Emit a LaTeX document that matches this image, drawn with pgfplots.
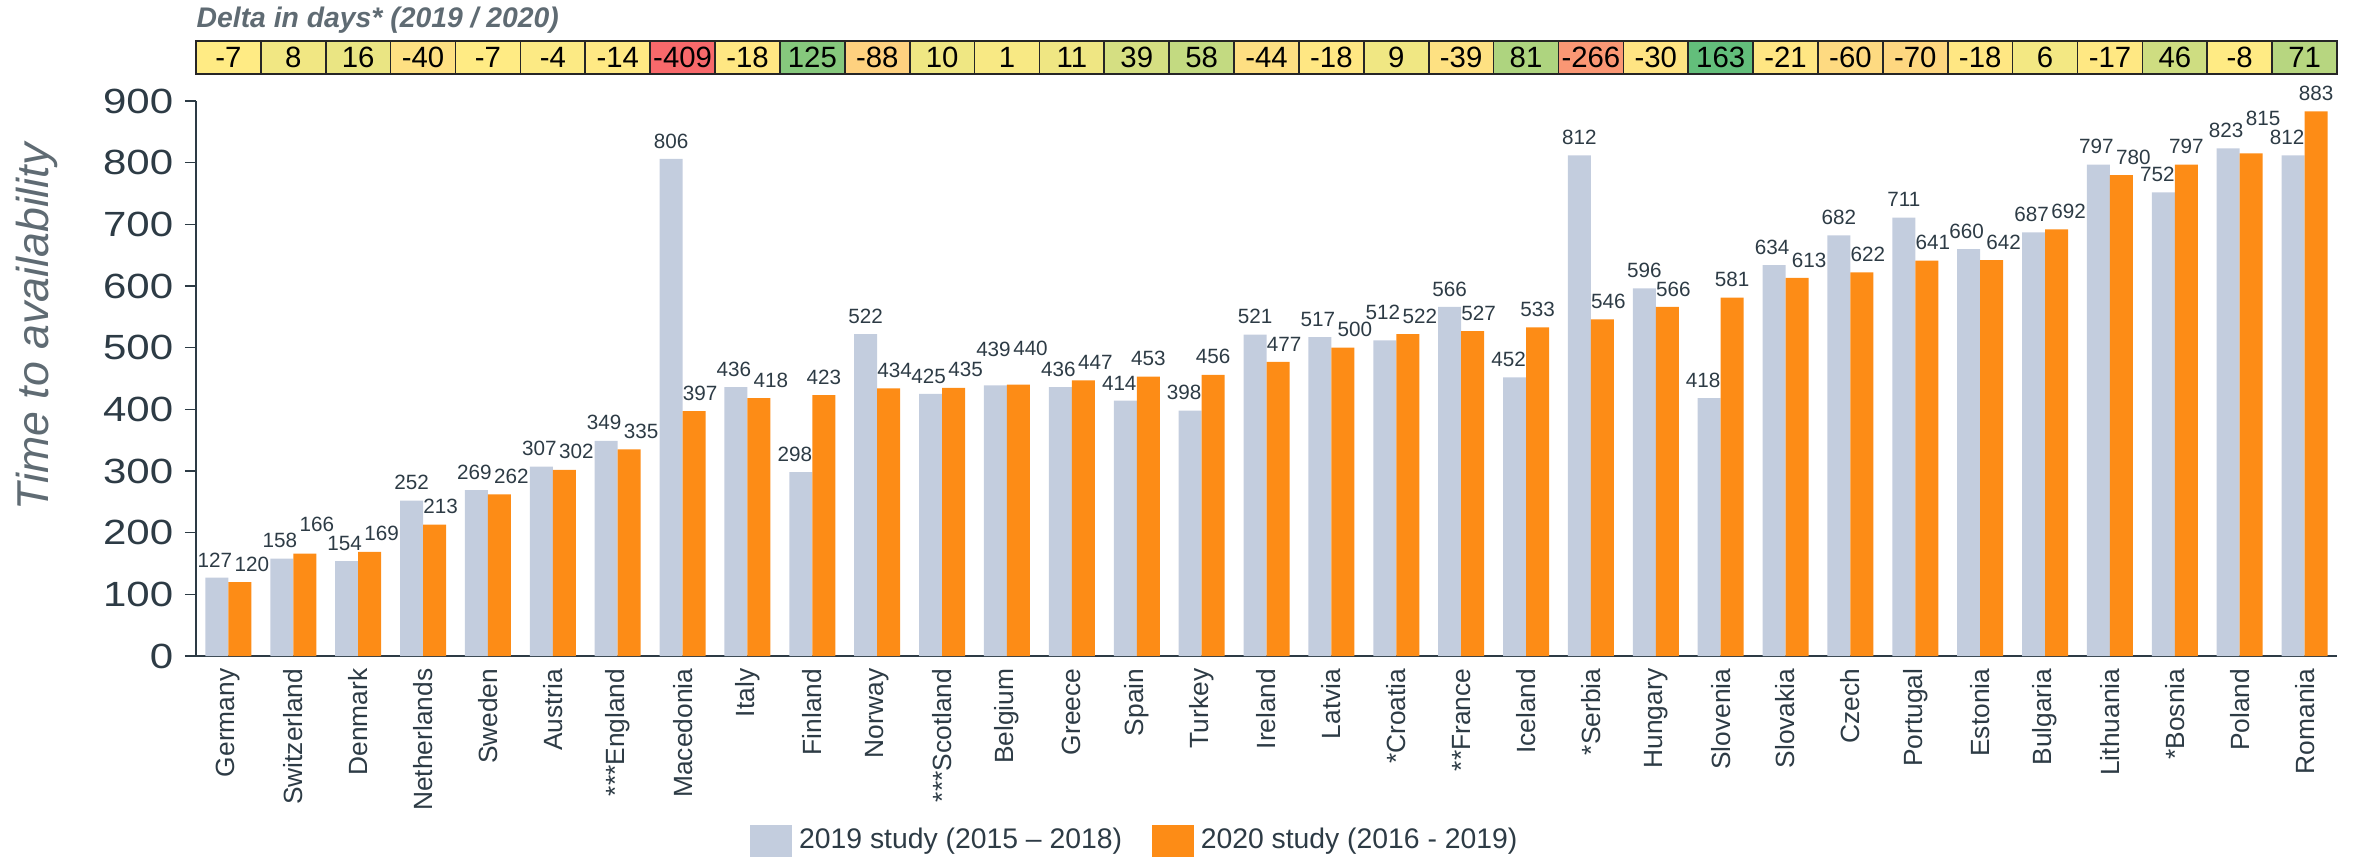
\documentclass[border=0pt]{standalone}
\usepackage{graphicx}
\usepackage{pgfplots}
\pgfplotsset{compat=1.18}
\usepackage{pgfplotstable}
\usepackage{fontspec}
\setmainfont{Liberation Sans}
\definecolor{bargray}{RGB}{195,205,222}
\definecolor{barorange}{RGB}{253,140,22}
\definecolor{txt}{RGB}{45,59,69}
\definecolor{lblgray}{RGB}{95,107,115}
% cell colours: red-yellow-green scale, min -409, midpoint -7, max 163
\definecolor{cell0}{RGB}{255,235,132}
\definecolor{cell1}{RGB}{241,231,131}
\definecolor{cell2}{RGB}{234,229,131}
\definecolor{cell3}{RGB}{254,224,130}
\definecolor{cell4}{RGB}{255,235,132}
\definecolor{cell5}{RGB}{252,234,132}
\definecolor{cell6}{RGB}{255,233,132}
\definecolor{cell7}{RGB}{248,105,107}
\definecolor{cell8}{RGB}{255,231,131}
\definecolor{cell9}{RGB}{134,200,125}
\definecolor{cell10}{RGB}{254,209,127}
\definecolor{cell11}{RGB}{239,231,131}
\definecolor{cell12}{RGB}{248,233,132}
\definecolor{cell13}{RGB}{239,230,131}
\definecolor{cell14}{RGB}{213,223,130}
\definecolor{cell15}{RGB}{195,218,129}
\definecolor{cell16}{RGB}{254,223,130}
\definecolor{cell17}{RGB}{255,231,131}
\definecolor{cell18}{RGB}{240,231,131}
\definecolor{cell19}{RGB}{254,225,130}
\definecolor{cell20}{RGB}{174,212,127}
\definecolor{cell21}{RGB}{250,151,116}
\definecolor{cell22}{RGB}{255,228,131}
\definecolor{cell23}{RGB}{99,190,123}
\definecolor{cell24}{RGB}{255,230,131}
\definecolor{cell25}{RGB}{254,218,129}
\definecolor{cell26}{RGB}{254,215,128}
\definecolor{cell27}{RGB}{255,231,131}
\definecolor{cell28}{RGB}{243,232,131}
\definecolor{cell29}{RGB}{255,232,131}
\definecolor{cell30}{RGB}{206,221,129}
\definecolor{cell31}{RGB}{255,235,132}
\definecolor{cell32}{RGB}{183,214,128}
\pgfdeclareplotmark{cell}{\pgfpathrectangle{\pgfpoint{-9.732pt}{-4.95pt}}{\pgfpoint{19.464pt}{9.9pt}}\pgfusepathqfillstroke}
% x: position, y19/y20: values, d: delta, ty: height of the delta row,
% s19/s20: label x-offsets (pt), r19/r20: extra label lift (pt)
\pgfplotstableread{
x y19 y20 d ty s19 s20 r19 r20
0 127 120 -7 970.5 -0.6 3.6 0 0
1 158 166 8 970.5 -0.6 3.6 0 3.5
2 154 169 16 970.5 -0.6 3.6 0 0
3 252 213 -40 970.5 0 1.8 0 0
4 269 262 -7 970.5 -0.6 3.6 0 0
5 307 302 -4 970.5 -0.6 3.6 0 0
6 349 335 -14 970.5 -0.6 3.6 0 0
7 806 397 -409 970.5 0 1.8 0 0
8 436 418 -18 970.5 -0.6 3.6 0 0
9 298 423 125 970.5 -1.8 0 0 0
10 522 434 -88 970.5 0 1.8 0 0
11 425 435 10 970.5 -0.6 3.6 0 0
12 439 440 1 970.5 -0.6 3.6 5.5 5.5
13 436 447 11 970.5 -0.6 3.6 0 0
14 414 453 39 970.5 -1.8 0 0 0
15 398 456 58 970.5 -1.8 0 0 0
16 521 477 -44 970.5 0 1.8 0 0
17 517 500 -18 970.5 -0.6 3.6 0 0
18 512 522 9 970.5 -0.6 3.6 3 0
19 566 527 -39 970.5 0 1.8 0 0
20 452 533 81 970.5 -1.8 0 0 0
21 812 546 -266 970.5 0 1.8 0 0
22 596 566 -30 970.5 0 1.8 0 0
23 418 581 163 970.5 -1.8 0 0 0
24 634 613 -21 970.5 -0.6 3.6 0 0
25 682 622 -60 970.5 0 1.8 0 0
26 711 641 -70 970.5 0 1.8 0 0
27 660 642 -18 970.5 -0.6 3.6 0 0
28 687 692 6 970.5 -0.6 3.6 0 0
29 797 780 -17 970.5 -0.6 3.6 0 0
30 752 797 46 970.5 -1.8 0 0 0
31 823 815 -8 970.5 -0.6 3.6 0 5
32 812 883 71 970.5 -1.8 0 0 0
}\data
\pgfplotsset{barlabel/.style={forget plot, draw=none, mark=none, point meta=explicit symbolic, nodes near coords,
  every node near coord/.append style={font=\fontsize{6.2}{7}\selectfont, text=txt, inner sep=0pt, anchor=south, yshift=3pt}}}
\begin{document}
\begin{tikzpicture}
\begin{axis}[
  scale only axis,
  width=642.3pt, height=166.5pt,
  xmin=-0.5, xmax=32.5, ymin=0, ymax=900,
  clip=false,
  axis lines*=left,
  x axis line style={line width=0.6pt, txt},
  y axis line style={line width=0.4pt, txt},
  xtick=data,
  xticklabels={Germany,Switzerland,Denmark,Netherlands,Sweden,Austria,***England,Macedonia,Italy,Finland,Norway,***Scotland,Belgium,Greece,Spain,Turkey,Ireland,Latvia,*Croatia,**France,Iceland,*Serbia,Hungary,Slovenia,Slovakia,Czech,Portugal,Estonia,Bulgaria,Lithuania,*Bosnia,Poland,Romania},
  xticklabel style={rotate=90, anchor=east, font=\fontsize{7.9}{9}\selectfont, text=txt},
  xticklabel shift=-3pt,
  x tick style={draw=none},
  ytick={0,100,...,900},
  yticklabel={\scalebox{1.2}[1]{\pgfmathprintnumber{\tick}}},
  yticklabel style={font=\fontsize{10.5}{12}\selectfont, text=txt},
  y tick style={txt, line width=0.4pt},
  tick align=outside,
  major tick length=3.3pt,
  /pgf/number format/assume math mode=true,
  ylabel={Time to availability},
  every axis y label/.style={at={(rel axis cs:0,0.5)}, rotate=90, anchor=center, yshift=47.7pt, xshift=15.5pt, font=\fontsize{13.4}{15}\selectfont\itshape, text=lblgray},
  legend style={at={(0.254,-0.333)}, anchor=west, draw=none, fill=none, legend columns=2, font=\fontsize{8.5}{10}\selectfont, text=txt, /tikz/every even column/.append style={column sep=7pt}},
  legend cell align=left,
]
\addplot[ybar, bar width=6.9pt, bar shift=-3.45pt, fill=bargray, draw=none,
  legend image code/.code={\fill[bargray] (0pt,-4.8pt) rectangle (12.6pt,4.8pt);}]
  table[x=x, y=y19] \data;
\addlegendentry{2019 study (2015 – 2018)}
\addplot[ybar, bar width=6.9pt, bar shift=3.45pt, fill=barorange, draw=none,
  legend image code/.code={\fill[barorange] (0pt,-4.8pt) rectangle (12.6pt,4.8pt);}]
  table[x=x, y=y20] \data;
\addlegendentry{2020 study (2016 - 2019)}
% value labels: bar centre +/- 3.45pt (0.1773 x-units), offsets in pt (0.05138 x-units, 5.405 y-units per pt)
\addplot[barlabel] table[x expr=\thisrow{x}-0.1773+0.05138*\thisrow{s19}, y expr=\thisrow{y19}+5.405*\thisrow{r19}, meta=y19] \data;
\addplot[barlabel] table[x expr=\thisrow{x}+0.1773+0.05138*\thisrow{s20}, y expr=\thisrow{y20}+5.405*\thisrow{r20}, meta=y20] \data;
\pgfplotsinvokeforeach{0,...,32}{
  \addplot[forget plot, only marks, mark=cell, mark options={fill=cell#1, draw=black!85, line width=0.5pt}]
    table[x=x, y=ty, restrict expr to domain={\thisrow{x}}{#1:#1}] \data;
}
\addplot[forget plot, draw=none, mark=none, point meta=explicit symbolic,
  nodes near coords, every node near coord/.append style={anchor=center, font=\fontsize{8.8}{10}\selectfont, text=black, inner sep=0pt, yshift=0pt}]
  table[x=x, y=ty, meta=d] \data;
\node[anchor=base west, font=\fontsize{8.5}{10}\selectfont\bfseries\itshape, text=lblgray, inner sep=0pt] at (rel axis cs:0,1) [yshift=22.2pt] {Delta in days* (2019 / 2020)};
\coordinate (bbsw) at (axis cs:-3.521,-329.2);
\coordinate (bbne) at (axis cs:32.808,1063.8);
\end{axis}
\pgfresetboundingbox
\path[use as bounding box] (bbsw) rectangle (bbne);
\end{tikzpicture}
\end{document}
